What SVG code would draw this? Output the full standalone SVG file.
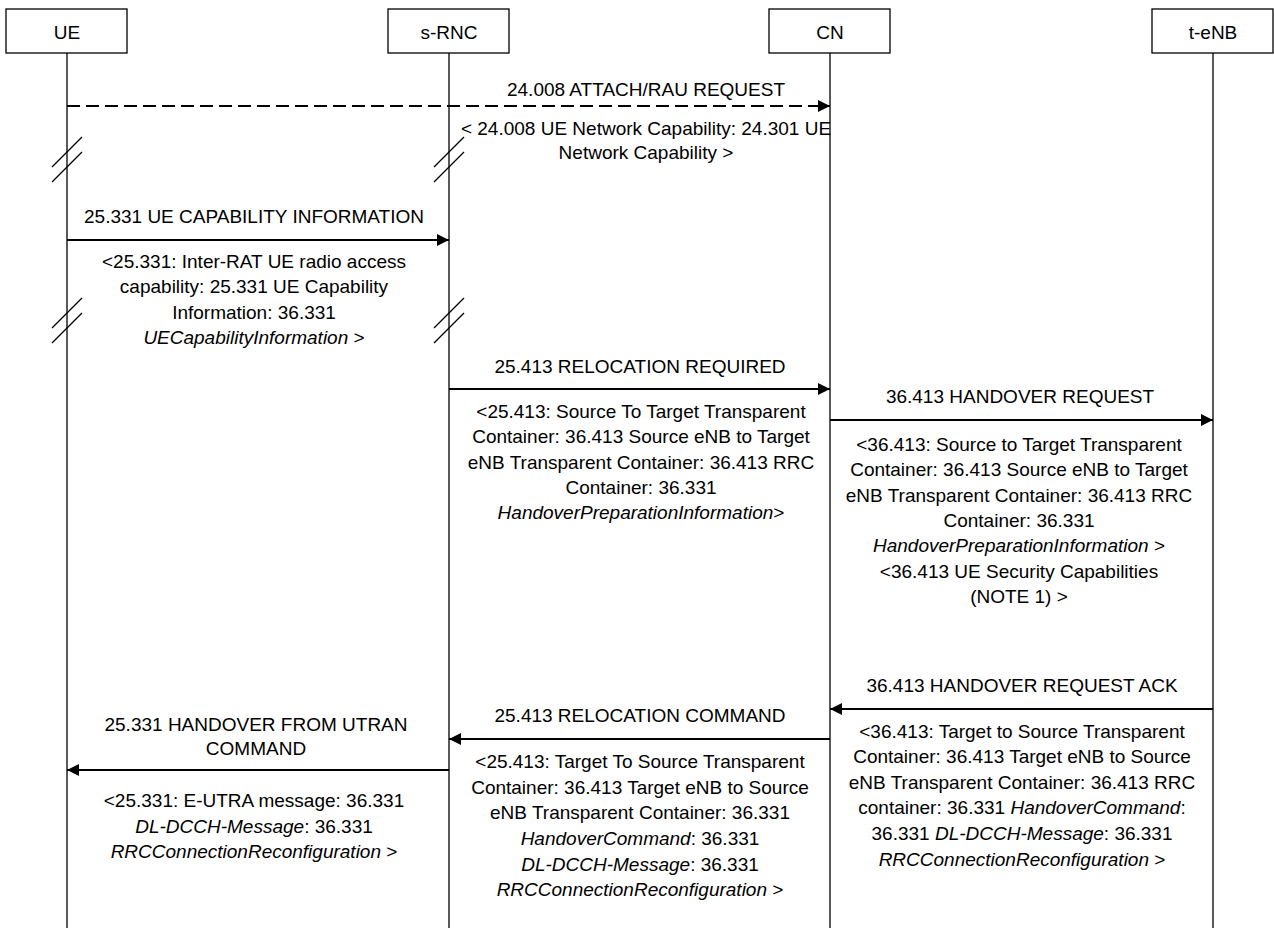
<svg xmlns="http://www.w3.org/2000/svg" width="1274" height="928" viewBox="0 0 1274 928">
<style>
text{font-family:"Liberation Sans",Arial,sans-serif;font-size:19px;fill:#000;text-anchor:middle}
.i{font-style:italic}
.box{fill:#fff;stroke:#000;stroke-width:1.3}
.life{stroke:#000;stroke-width:1.3;fill:none}
.brk{stroke:#000;stroke-width:1.3;fill:none}
.msg{stroke:#000;stroke-width:2.2;fill:none;marker-end:url(#ah)}
.dash{stroke-dasharray:13 6}
</style>
<defs>
<marker id="ah" markerUnits="userSpaceOnUse" markerWidth="13" markerHeight="12" refX="12" refY="6" orient="auto">
<path d="M0,0 L12,6 L0,12 z" fill="#000"/>
</marker>
</defs>
<g id="lifelines">
<line class="life" x1="67" y1="53" x2="67" y2="928"/>
<line class="life" x1="449" y1="53" x2="449" y2="928"/>
<line class="life" x1="830" y1="53" x2="830" y2="928"/>
<line class="life" x1="1213" y1="53" x2="1213" y2="928"/>
</g>
<g id="node-UE"><rect class="box" x="6" y="9" width="121" height="44"/><text x="67" y="39">UE</text></g>
<g id="node-sRNC"><rect class="box" x="388" y="9" width="121" height="44"/><text x="449" y="39">s-RNC</text></g>
<g id="node-CN"><rect class="box" x="769" y="9" width="121" height="44"/><text x="830" y="39">CN</text></g>
<g id="node-teNB"><rect class="box" x="1152" y="9" width="121" height="44"/><text x="1213" y="39">t-eNB</text></g>
<g id="breaks">
<line class="brk" x1="82" y1="137" x2="52" y2="167"/>
<line class="brk" x1="82" y1="152" x2="52" y2="182"/>
<line class="brk" x1="464" y1="137" x2="434" y2="167"/>
<line class="brk" x1="464" y1="152" x2="434" y2="182"/>
<line class="brk" x1="82" y1="298" x2="52" y2="328"/>
<line class="brk" x1="82" y1="313" x2="52" y2="343"/>
<line class="brk" x1="464" y1="298" x2="434" y2="328"/>
<line class="brk" x1="464" y1="313" x2="434" y2="343"/>
</g>
<g id="connectors">
<line class="msg dash" x1="67" y1="106" x2="830" y2="106"/>
<line class="msg" x1="67" y1="240" x2="449" y2="240"/>
<line class="msg" x1="449" y1="389" x2="830" y2="389"/>
<line class="msg" x1="830" y1="420" x2="1213" y2="420"/>
<line class="msg" x1="1213" y1="709" x2="830" y2="709"/>
<line class="msg" x1="830" y1="739" x2="449" y2="739"/>
<line class="msg" x1="449" y1="770" x2="67" y2="770"/>
</g>
<g id="labels">
<text x="646" y="96">24.008 ATTACH/RAU REQUEST</text>
<text x="646" y="135">&lt; 24.008 UE Network Capability: 24.301 UE</text>
<text x="646" y="159">Network Capability &gt;</text>

<text x="254" y="223">25.331 UE CAPABILITY INFORMATION</text>
<text x="254" y="268">&lt;25.331: Inter-RAT UE radio access</text>
<text x="254" y="293">capability: 25.331 UE Capability</text>
<text x="254" y="319">Information: 36.331</text>
<text x="254" y="344"><tspan class="i">UECapabilityInformation</tspan> &gt;</text>

<text x="640" y="373">25.413 RELOCATION REQUIRED</text>
<text x="641" y="418">&lt;25.413: Source To Target Transparent</text>
<text x="641" y="443">Container: 36.413 Source eNB to Target</text>
<text x="641" y="469">eNB Transparent Container: 36.413 RRC</text>
<text x="641" y="494">Container: 36.331</text>
<text x="641" y="519"><tspan class="i">HandoverPreparationInformation</tspan>&gt;</text>

<text x="1020" y="403">36.413 HANDOVER REQUEST</text>
<text x="1019" y="451">&lt;36.413: Source to Target Transparent</text>
<text x="1019" y="476">Container: 36.413 Source eNB to Target</text>
<text x="1019" y="502">eNB Transparent Container: 36.413 RRC</text>
<text x="1019" y="527">Container: 36.331</text>
<text x="1019" y="552"><tspan class="i">HandoverPreparationInformation</tspan> &gt;</text>
<text x="1019" y="578">&lt;36.413 UE Security Capabilities</text>
<text x="1019" y="603">(NOTE 1) &gt;</text>

<text x="1022" y="692">36.413 HANDOVER REQUEST ACK</text>
<text x="1022" y="738">&lt;36.413: Target to Source Transparent</text>
<text x="1022" y="763">Container: 36.413 Target eNB to Source</text>
<text x="1022" y="789">eNB Transparent Container: 36.413 RRC</text>
<text x="1022" y="814">container: 36.331 <tspan class="i">HandoverCommand</tspan>:</text>
<text x="1022" y="840">36.331 <tspan class="i">DL-DCCH-Message</tspan>: 36.331</text>
<text x="1022" y="866"><tspan class="i">RRCConnectionReconfiguration</tspan> &gt;</text>

<text x="640" y="722">25.413 RELOCATION COMMAND</text>
<text x="640" y="768">&lt;25.413: Target To Source Transparent</text>
<text x="640" y="794">Container: 36.413 Target eNB to Source</text>
<text x="640" y="819">eNB Transparent Container: 36.331</text>
<text x="640" y="845"><tspan class="i">HandoverCommand</tspan>: 36.331</text>
<text x="640" y="871"><tspan class="i">DL-DCCH-Message</tspan>: 36.331</text>
<text x="640" y="896"><tspan class="i">RRCConnectionReconfiguration</tspan> &gt;</text>

<text x="256" y="731">25.331 HANDOVER FROM UTRAN</text>
<text x="256" y="755">COMMAND</text>
<text x="254" y="807">&lt;25.331: E-UTRA message: 36.331</text>
<text x="254" y="833"><tspan class="i">DL-DCCH-Message</tspan>: 36.331</text>
<text x="254" y="858"><tspan class="i">RRCConnectionReconfiguration</tspan> &gt;</text>
</g>
</svg>
